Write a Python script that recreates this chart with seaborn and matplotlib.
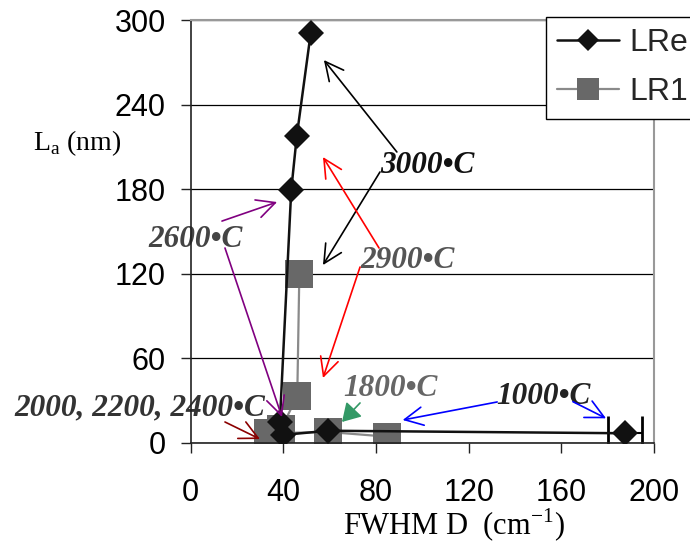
import numpy as np
import pandas as pd
import matplotlib
matplotlib.use("Agg")
import matplotlib.pyplot as plt
import seaborn as sns

# data
lre_fwhm = [187.5, 59.4, 39.7, 38.5, 43.4, 45.8, 51.8]
lre_la = [6.9, 8.7, 5.7, 15.0, 179.4, 217.7, 290.6]
lr1_fwhm = [84.9, 59.4, 33.5, 39.0, 46.0, 46.9]
lr1_la = [4.5, 7.8, 6.9, 10.0, 33.3, 119.9]
err_lre_x, err_lre_y, err_lre = [187.5], [6.9], [7.4]
err_lr1_x, err_lr1_y, err_lr1 = [84.9], [4.5], [3.5]
x_ticks = [0, 40, 80, 120, 160, 200]
y_ticks = [0, 60, 120, 180, 240, 300]

# labels: text, x, y (baseline), colour
temp_labels = [
    ("3000•C", 81.7, 191.3, "#111111"),
    ("2900•C", 73.1, 123.9, "#555555"),
    ("2600•C", -18.3, 139.2, "#444444"),
    ("1800•C", 65.7, 33.3, "#666666"),
    ("1000•C", 131.8, 27.7, "#222222"),
    ("2000, 2200, 2400•C", -76.3, 19.9, "#333333"),
]
# arrows: tail, head, colour, filled head
arrows = [
    ((89.0, 206.4), (57.5, 271.6), "black", False),
    ((81.7, 192.2), (57.1, 126.2), "black", False),
    ((81.3, 138.3), (57.1, 202.8), "red", False),
    ((73.1, 124.8), (57.1, 46.1), "red", False),
    ((13.5, 157.4), (37.3, 170.9), "#800080", False),
    ((14.8, 138.3), (39.4, 18.4), "#800080", False),
    ((14.8, 14.9), (29.9, 2.8), "#8b0000", False),
    ((73.1, 28.4), (65.3, 14.9), "#339966", True),
    ((132.3, 29.1), (91.5, 16.3), "blue", False),
    ((165.0, 29.3), (179.3, 17.5), "blue", False),
]

sns.set_style("ticks")
plt.rcParams['font.family'] = ['Liberation Sans', 'DejaVu Sans']
plt.rcParams['mathtext.fontset'] = 'custom'
plt.rcParams['mathtext.rm'] = 'Liberation Serif'

fig = plt.figure(figsize=(6.9, 5.46), dpi=100)
ax = fig.add_axes([190.7 / 690, 1 - 443 / 546, 463.3 / 690, 423 / 546])

ax.errorbar(err_lr1_x, err_lr1_y, xerr=err_lr1, fmt='none', ecolor='black',
            elinewidth=1.5, capsize=10, capthick=2, zorder=1.5)
sns.lineplot(x=lr1_fwhm, y=lr1_la, sort=False, estimator=None, ax=ax,
             color='#8a8a8a', linewidth=1.6, marker='s', markersize=20,
             markerfacecolor='#686868', markeredgecolor='#686868',
             markeredgewidth=0, label='LR1', zorder=2)
ax.errorbar(err_lre_x, err_lre_y, xerr=err_lre, fmt='none', ecolor='black',
            elinewidth=1.5, capsize=12, capthick=2, zorder=2.5)
sns.lineplot(x=lre_fwhm, y=lre_la, sort=False, estimator=None, ax=ax,
             color='#111111', linewidth=1.8, marker='D', markersize=13.5,
             markerfacecolor='#111111', markeredgecolor='#111111',
             markeredgewidth=0, label='LRe', zorder=3)

ax.set_xlim(0, 200)
ax.set_ylim(0, 300)
ax.set_xticks(x_ticks)
ax.set_yticks(y_ticks)
ax.tick_params(axis='both', labelsize=22, length=7, width=1, direction='out',
               color='#222222', labelcolor='black')
ax.tick_params(axis='x', pad=18)
ax.tick_params(axis='y', pad=11)
ax.yaxis.grid(True, color='black', linewidth=0.9)
ax.set_axisbelow(True)
for s in ['left', 'bottom']:
    ax.spines[s].set_color('#222222')
    ax.spines[s].set_linewidth(1.2)
for s in ['top', 'right']:
    ax.spines[s].set_visible(True)
    ax.spines[s].set_color('#999999')
    ax.spines[s].set_linewidth(1.5)

for txt, tx, ty, col in temp_labels:
    ax.text(tx, ty, txt, color=col, fontsize=22.5, fontweight='bold',
            fontstyle='italic', family=['Liberation Serif', 'DejaVu Serif'],
            ha='left', va='baseline', clip_on=False, zorder=1)

for tail, head, col, filled in arrows:
    style = '-|>,head_length=0.5,head_width=0.3' if filled else '->,head_length=0.6,head_width=0.3'
    ax.annotate('', xy=head, xytext=tail, annotation_clip=False,
                arrowprops=dict(arrowstyle=style, color=col, lw=1.2,
                                shrinkA=0, shrinkB=0, mutation_scale=22))

fig.text(33 / 690, 1 - 150 / 546, r'L$_\mathregular{a}$ (nm)', fontsize=20,
         color='black', family=['Liberation Serif', 'DejaVu Serif'],
         ha='left', va='baseline')
fig.text(343 / 690, 1 - 535 / 546, r'FWHM D  (cm$^\mathregular{-1}$)', fontsize=22,
         color='black', family=['Liberation Serif', 'DejaVu Serif'],
         ha='left', va='baseline')

handles, labels = ax.get_legend_handles_labels()
order = [labels.index('LRe'), labels.index('LR1')]
ax.get_legend().remove()
leg = fig.legend([handles[i] for i in order], [labels[i] for i in order],
                 loc='upper left', bbox_to_anchor=(546 / 690, 1 - 17 / 546),
                 fontsize=23, frameon=True, fancybox=False, framealpha=1,
                 edgecolor='black', handlelength=1.95, handletextpad=0.3,
                 borderpad=0.35, borderaxespad=0, labelspacing=0.6, markerscale=0.8)
leg.get_frame().set_linewidth(1.0)

fig.savefig('out.png', dpi=100)
